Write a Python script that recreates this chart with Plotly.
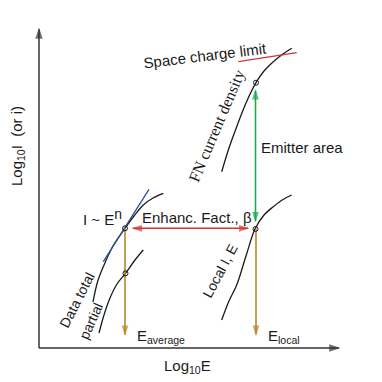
import math
import plotly.graph_objects as go

# Schematic curves (diagram units: x to the right, y downward as drawn)
total_x = [93, 97.5, 103.3, 113, 125, 134, 143.3, 153, 163.3]
total_y = [302, 282, 266.7, 246, 228.3, 216, 205, 198, 193.3]
partial_x = [99, 104, 110, 117, 125.5, 135, 143.3]
partial_y = [333, 315, 298, 284, 273.3, 260, 250]
local_x = [221.7, 229, 236.7, 246, 255, 264, 273.3, 283, 291.7]
local_y = [320, 301, 285, 256, 229, 215, 206.7, 199.5, 195]
fn_x = [221.7, 229, 236.7, 246, 256, 264, 273.3, 283, 291.7]
fn_y = [171.7, 148, 126.7, 103, 82.7, 71, 61.7, 54, 48.3]
tangent_x = [103.3, 149]
tangent_y = [261.7, 189.3]
scl_x = [238.3, 296.7]
scl_y = [61.7, 52.7]
pts_x = [125, 125.5, 255.5, 256]
pts_y = [228.3, 273.3, 229, 82.7]

# Arrow endpoints (tail, head)
x_axis = [(39, 348), (346, 348)]
y_axis = [(39, 348), (39, 22)]
beta_arrow = [(126.5, 228.3), (254.5, 228.3)]
area_arrow = [(255.5, 227.5), (255.5, 84)]
eavg_arrow = [(125, 228.3), (125, 341)]
eloc_arrow = [(256, 229), (256, 341)]

BLACK = "#1a1a1a"
RED = "#cc3b2f"
GREEN = "#1ea84c"
GOLD = "#b5862c"
BLUE = "#2d4fa3"
SANS = "Liberation Sans"
SERIF = "Liberation Serif"

fig = go.Figure()
for xs, ys, col, w in [
    (total_x, total_y, BLACK, 1.3),
    (partial_x, partial_y, BLACK, 1.3),
    (local_x, local_y, BLACK, 1.3),
    (fn_x, fn_y, BLACK, 1.3),
    (tangent_x, tangent_y, BLUE, 1.3),
    (scl_x, scl_y, "#d03535", 1.3),
]:
    fig.add_trace(go.Scatter(x=xs, y=ys, mode="lines", line=dict(color=col, width=w, shape="spline"),
                             hoverinfo="skip", showlegend=False))


def head(p_from, p_to, color, size):
    # marker centred half a head back from the tip, pointing along the segment
    dx, dy = p_to[0] - p_from[0], p_to[1] - p_from[1]
    L = math.hypot(dx, dy)
    ux, uy = dx / L, dy / L
    cx, cy = p_to[0] - ux * size * 0.45, p_to[1] - uy * size * 0.45
    fig.add_trace(go.Scatter(x=[p_from[0], cx], y=[p_from[1], cy], mode="markers",
                             marker=dict(symbol="arrow", size=[0, size], color=color,
                                         angleref="previous", line=dict(width=0)),
                             hoverinfo="skip", showlegend=False))
    return (p_to[0] - ux * size * 0.6, p_to[1] - uy * size * 0.6)


def arrow(seg, color, width, both=False, size=11):
    p0, p1 = seg
    e1 = head(p0, p1, color, size)
    e0 = head(p1, p0, color, size) if both else p0
    fig.add_trace(go.Scatter(x=[e0[0], e1[0]], y=[e0[1], e1[1]], mode="lines",
                             line=dict(color=color, width=width),
                             hoverinfo="skip", showlegend=False))


arrow(x_axis, "#333333", 1.5, size=12)
arrow(y_axis, "#333333", 1.5, size=12)
arrow(beta_arrow, RED, 1.6, both=True, size=11)
arrow(area_arrow, GREEN, 1.6, both=True, size=11)
arrow(eavg_arrow, GOLD, 1.6, size=11)
arrow(eloc_arrow, GOLD, 1.6, size=11)

fig.add_trace(go.Scatter(x=pts_x, y=pts_y, mode="markers",
                         marker=dict(symbol="circle-open", size=5, color=BLACK, line=dict(width=1)),
                         hoverinfo="skip", showlegend=False))

annotations = []


def label(x, y, text, size=15, angle=0, family=SANS, xanchor="center"):
    annotations.append(dict(x=x, y=y, xref="x", yref="y", text=text, showarrow=False,
                            textangle=angle, xanchor=xanchor, yanchor="middle",
                            font=dict(family=family, size=size, color=BLACK)))


label(205, 55, "Space charge limit", 15, -7)
label(217, 126, "FN current density", 16, -67, SERIF)
label(302, 147, "Emitter area", 15)
label(102, 217, "I ~ E<sup><span style='font-size:14px'>n</span></sup>", 15)
label(197, 217, "Enhanc. Fact., β", 15)
label(220, 271, "Local I, E", 14, -62)
label(77, 300, "Data total", 14, -63)
label(91, 321, "partial", 14, -66)
label(135, 336, "E<sub>average</sub>", 15, 0, xanchor="left")
label(266, 336, "E<sub>local</sub>", 15, 0, xanchor="left")
label(187, 366, "Log<sub>10</sub>E", 15)
label(17, 146, "Log<sub>10</sub>I  (or i)", 15, -90)

fig.update_layout(
    width=382, height=382, margin=dict(l=0, r=0, t=0, b=0),
    paper_bgcolor="white", plot_bgcolor="white",
    xaxis=dict(range=[0, 382], visible=False, fixedrange=True),
    yaxis=dict(range=[382, 0], visible=False, fixedrange=True),
    annotations=annotations,
)
fig.write_html("out.html", config={"displayModeBar": False},
               post_script="document.body.style.margin='0';document.body.style.overflow='hidden';")
